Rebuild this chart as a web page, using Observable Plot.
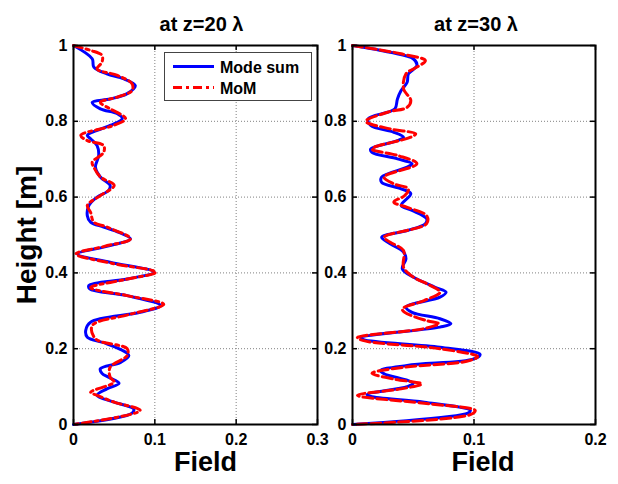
<!DOCTYPE html>
<html>
<head>
<meta charset="utf-8">
<script src="https://cdn.jsdelivr.net/npm/d3@7"></script>
<script src="https://cdn.jsdelivr.net/npm/@observablehq/plot@0.6"></script>
<style>
  html, body { margin: 0; padding: 0; background: #fff; }
  #wrap { position: relative; width: 618px; height: 484px; overflow: hidden; background: #fff;
          font-family: "Liberation Sans", Arial, sans-serif; }
  #wrap > svg, #wrap > div { position: absolute; top: 0; }
</style>
</head>
<body>
<div id="wrap"></div>
<script>
// ---------- data ----------
const titles = ["at z=20 λ", "at z=30 λ"];
const seriesNames = ["Mode sum", "MoM"];
const xLabel = "Field";
const yLabel = "Height [m]";
const xTicksLeft = [0, 0.1, 0.2, 0.3];
const xTicksRight = [0, 0.1, 0.2];
const yTicks = [0, 0.2, 0.4, 0.6, 0.8, 1];

// z = 20 lambda, Mode sum
const z20ModeH = [1.000,0.965,0.943,0.925,0.912,0.894,0.873,0.859,0.850,0.833,0.820,0.807,0.789,0.763,0.754,0.736,0.710,0.679,0.653,0.631,0.617,0.600,0.578,0.551,0.534,0.521,0.507,0.490,0.472,0.450,0.428,0.402,0.384,0.367,0.358,0.340,0.314,0.296,0.270,0.248,0.230,0.213,0.182,0.164,0.147,0.135,0.125,0.109,0.094,0.077,0.059,0.041,0.030,0];
const z20ModeF = [0,0.023,0.025,0.041,0.062,0.076,0.066,0.045,0.023,0.033,0.054,0.060,0.045,0.017,0.021,0.029,0.031,0.027,0.033,0.045,0.043,0.029,0.019,0.017,0.021,0.037,0.056,0.070,0.045,0.005,0.045,0.099,0.066,0.019,0.020,0.066,0.107,0.082,0.021,0.015,0.017,0.041,0.068,0.058,0.033,0.035,0.043,0.056,0.041,0.029,0.050,0.074,0.072,0];
// z = 20 lambda, MoM
const z20MomH = [1.000,0.987,0.974,0.956,0.938,0.921,0.899,0.881,0.864,0.850,0.833,0.807,0.789,0.763,0.749,0.736,0.718,0.692,0.679,0.653,0.631,0.604,0.578,0.560,0.534,0.521,0.490,0.470,0.450,0.425,0.402,0.382,0.361,0.340,0.317,0.290,0.261,0.226,0.200,0.182,0.151,0.125,0.112,0.085,0.077,0.059,0.037,0];
const z20MomF = [0,0.021,0.035,0.035,0.029,0.054,0.072,0.072,0.054,0.033,0.045,0.064,0.049,0.009,0.017,0.037,0.037,0.023,0.025,0.033,0.050,0.033,0.017,0.021,0.025,0.041,0.070,0.038,0.003,0.048,0.101,0.062,0.021,0.066,0.111,0.068,0.023,0.027,0.066,0.066,0.045,0.045,0.050,0.021,0.029,0.050,0.082,0];

// z = 30 lambda, Mode sum
const z30ModeH = [1,0.982,0.965,0.947,0.925,0.903,0.881,0.859,0.833,0.824,0.807,0.789,0.771,0.758,0.749,0.727,0.718,0.701,0.688,0.679,0.653,0.639,0.622,0.609,0.578,0.565,0.543,0.530,0.512,0.494,0.477,0.455,0.437,0.411,0.389,0.362,0.349,0.336,0.310,0.296,0.279,0.266,0.257,0.229,0.224,0.204,0.185,0.173,0.156,0.142,0.134,0.109,0.100,0.079,0.074,0.059,0.037,0.030,0];
const z30ModeF = [0,0.031,0.050,0.053,0.046,0.045,0.040,0.037,0.035,0.029,0.013,0.015,0.034,0.042,0.037,0.015,0.016,0.037,0.049,0.045,0.024,0.024,0.040,0.048,0.040,0.049,0.061,0.060,0.045,0.024,0.031,0.042,0.044,0.041,0.050,0.068,0.077,0.072,0.044,0.049,0.072,0.081,0.072,0.007,0.009,0.072,0.105,0.100,0.045,0.023,0.026,0.050,0.045,0.012,0.015,0.059,0.097,0.095,0];
// z = 30 lambda, MoM
const z30MomH = [1,0.978,0.960,0.943,0.925,0.886,0.855,0.837,0.824,0.800,0.780,0.767,0.758,0.727,0.710,0.688,0.653,0.635,0.622,0.604,0.587,0.573,0.551,0.530,0.494,0.481,0.459,0.415,0.389,0.367,0.349,0.327,0.305,0.296,0.274,0.266,0.253,0.229,0.220,0.200,0.179,0.167,0.151,0.135,0.120,0.107,0.094,0.077,0.056,0.037,0.026,0];
const z30MomF = [0,0.040,0.060,0.053,0.044,0.042,0.048,0.045,0.029,0.011,0.031,0.052,0.048,0.016,0.037,0.053,0.026,0.034,0.046,0.043,0.034,0.045,0.061,0.061,0.026,0.031,0.042,0.042,0.050,0.064,0.072,0.059,0.041,0.043,0.061,0.071,0.059,0.004,0.011,0.072,0.103,0.094,0.042,0.016,0.034,0.057,0.040,0.004,0.059,0.101,0.097,0];

// ---------- helpers ----------
const zip = (H, F) => H.map((h, i) => ({h, f: F[i]}));
const FONT = "'Liberation Sans', Arial, Helvetica, sans-serif";
const SVG_H = 484, MT = 45, MB = 60;
const plotH = SVG_H - MT - MB;

function panel({width, ml, mr, xDomain, xTicks, title, titleDx, labelDx, mode, mom, momDash, withYLabel}) {
  const plotW = width - ml - mr;
  const marks = [
    Plot.gridX({ticks: xTicks, stroke: "#808080", strokeOpacity: 1, strokeWidth: 1, strokeDasharray: "1,2"}),
    Plot.gridY({ticks: yTicks, stroke: "#808080", strokeOpacity: 1, strokeWidth: 1, strokeDasharray: "1,2"}),
    Plot.line(mode, {x: "f", y: "h", stroke: "#0000ff", strokeWidth: 3, curve: "catmull-rom"}),
    Plot.line(mom, {x: "f", y: "h", stroke: "#ff0000", strokeWidth: 3, strokeDasharray: momDash, curve: "catmull-rom"}),
    // inside ticks on all four sides (MATLAB box style)
    Plot.tickX(xTicks, {x: d => d, insetTop: plotH - 5, stroke: "black", strokeWidth: 1.5}),
    Plot.tickX(xTicks, {x: d => d, insetBottom: plotH - 5, stroke: "black", strokeWidth: 1.5}),
    Plot.tickY(yTicks, {y: d => d, insetRight: plotW - 5, stroke: "black", strokeWidth: 1.5}),
    Plot.tickY(yTicks, {y: d => d, insetLeft: plotW - 5, stroke: "black", strokeWidth: 1.5}),
    Plot.frame({stroke: "black", strokeWidth: 2}),
    Plot.axisX({ticks: xTicks, tickSize: 0, tickPadding: 9, tickFormat: d => String(d), label: null,
                fontSize: 16, fontWeight: "bold", fill: "black"}),
    Plot.axisY({ticks: yTicks, tickSize: 0, tickPadding: 6, tickFormat: d => String(d), label: null,
                fontSize: 16, fontWeight: "bold", fill: "black"}),
    Plot.text([title], {text: d => d, frameAnchor: "top", textAnchor: "middle", dy: -29, dx: titleDx, fontSize: 20, fontWeight: "bold", fill: "black"}),
    Plot.text([xLabel], {text: d => d, frameAnchor: "bottom", textAnchor: "middle", dy: 46, dx: labelDx, fontSize: 27, fontWeight: "bold", fill: "black"})
  ];
  if (withYLabel) {
    marks.push(Plot.text([yLabel], {text: d => d, frameAnchor: "left", textAnchor: "middle", dx: -46, rotate: -90, fontSize: 28, fontWeight: "bold", fill: "black"}));
  }
  return Plot.plot({
    width, height: SVG_H,
    marginLeft: ml, marginRight: mr, marginTop: MT, marginBottom: MB,
    style: {fontFamily: FONT, background: "transparent", overflow: "visible", color: "black"},
    x: {domain: xDomain, nice: false},
    y: {domain: [0, 1], nice: false},
    marks
  });
}

const wrap = document.getElementById("wrap");

const left = panel({
  width: 330, ml: 73, mr: 13, xDomain: [0, 0.3], xTicks: xTicksLeft,
  title: titles[0], titleDx: 6, labelDx: 10,
  mode: zip(z20ModeH, z20ModeF), mom: zip(z20MomH, z20MomF), momDash: "9,4,3,4", withYLabel: true
});
left.style.left = "0px";
wrap.appendChild(left);

const right = panel({
  width: 288, ml: 22, mr: 23, xDomain: [0, 0.2], xTicks: xTicksRight,
  title: titles[1], titleDx: 2, labelDx: 9,
  mode: zip(z30ModeH, z30ModeF), mom: zip(z30MomH, z30MomF), momDash: "10,4", withYLabel: false
});
right.style.left = "330px";
wrap.appendChild(right);

// ---------- legend (left panel, upper right) ----------
const lg = d3.create("svg")
  .attr("width", 148).attr("height", 49)
  .style("position", "absolute").style("left", "164px").style("top", "52px")
  .style("font-family", FONT);
lg.append("rect").attr("x", 0.5).attr("y", 0.5).attr("width", 147).attr("height", 48)
  .attr("fill", "white").attr("stroke", "#444").attr("stroke-width", 1);
const legendStyles = [
  {color: "#0000ff", dash: null},
  {color: "#ff0000", dash: "9,4,3,4"}
];
seriesNames.forEach((name, i) => {
  const yy = 14.5 + i * 21;
  const ln = lg.append("line").attr("x1", 9).attr("x2", 50).attr("y1", yy).attr("y2", yy)
    .attr("stroke", legendStyles[i].color).attr("stroke-width", 3);
  if (legendStyles[i].dash) ln.attr("stroke-dasharray", legendStyles[i].dash);
  lg.append("text").attr("x", 56).attr("y", yy + 6).attr("font-size", 16).attr("font-weight", "bold")
    .attr("fill", "black").text(name);
});
wrap.appendChild(lg.node());
</script>
</body>
</html>
